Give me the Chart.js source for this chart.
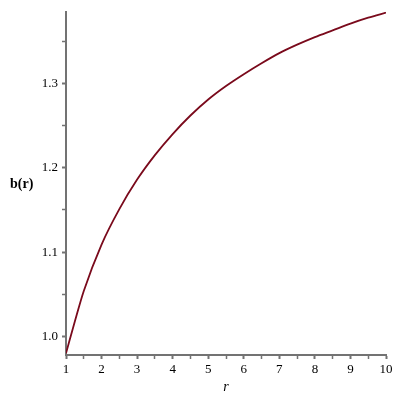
<!DOCTYPE html>
<html>
<head>
<meta charset="utf-8">
<script src="https://cdn.jsdelivr.net/npm/chart.js@4/dist/chart.umd.min.js"></script>
<style>
  html, body { margin: 0; padding: 0; background: #fff; }
  #wrap { width: 400px; height: 400px; }
</style>
</head>
<body>
<div id="wrap"><canvas id="grafica"></canvas></div>
<script>
// ── Datos ────────────────────────────────────────────────────────────────────
const rValues = [1, 1.25, 1.5, 2, 2.5, 3, 3.5, 4, 4.5, 5, 5.5, 6, 6.5, 7, 7.5, 8, 8.5, 9, 9.5, 10];
const bValues = [0.980, 1.018, 1.054, 1.109, 1.151, 1.186, 1.215, 1.240, 1.262, 1.281,
                 1.297, 1.311, 1.324, 1.336, 1.346, 1.355, 1.363, 1.371, 1.378, 1.384];

const xTicks      = [1, 1.5, 2, 2.5, 3, 3.5, 4, 4.5, 5, 5.5, 6, 6.5, 7, 7.5, 8, 8.5, 9, 9.5, 10];
const xTickLabels = ['1', '', '2', '', '3', '', '4', '', '5', '', '6', '', '7', '', '8', '', '9', '', '10'];
const yTicks      = [1.0, 1.05, 1.1, 1.15, 1.2, 1.25, 1.3, 1.35];
const yTickLabels = ['1.0', '', '1.1', '', '1.2', '', '1.3', ''];

const xTitle = 'r';
const yTitle = 'b(r)';

// ── Estilo ───────────────────────────────────────────────────────────────────
const AXIS_COLOR = '#737373';
const LINE_COLOR = '#7a0a1c';
const SERIF = "'Liberation Serif', 'Times New Roman', serif";

// títulos de ejes al estilo Maple (horizontales)
const titulos = {
    id: 'titulos',
    afterDraw(chart) {
        const { ctx, chartArea } = chart;
        ctx.save();
        ctx.fillStyle = '#000';
        ctx.textBaseline = 'middle';
        ctx.font = `bold 14px ${SERIF}`;
        ctx.textAlign = 'left';
        ctx.fillText(yTitle, 10, (chartArea.top + chartArea.bottom) / 2 + 1);
        ctx.font = `italic 14px ${SERIF}`;
        ctx.textAlign = 'center';
        ctx.fillText(xTitle, (chartArea.left + chartArea.right) / 2, 387);
        ctx.restore();
    }
};

const tickWidth = ctx => (ctx.tick && ctx.tick.label !== '' ? 2 : 1.5);

new Chart(document.getElementById('grafica'), {
    type: 'line',
    data: {
        datasets: [{
            data: rValues.map((r, i) => ({ x: r, y: bValues[i] })),
            borderColor: LINE_COLOR,
            borderWidth: 1.8,
            pointRadius: 0,
            fill: false,
            cubicInterpolationMode: 'monotone',
        }]
    },
    options: {
        responsive: true,
        maintainAspectRatio: false,
        animation: false,
        layout: { padding: { top: 8, right: 14, left: 0, bottom: 0 } },
        plugins: { legend: { display: false }, tooltip: { enabled: false } },
        scales: {
            x: {
                type: 'linear',
                min: 1,
                max: 10,
                afterBuildTicks: s => { s.ticks = xTicks.map(v => ({ value: v })); },
                afterFit: s => { s.height = 45; },
                border: { display: true, color: AXIS_COLOR, width: 2 },
                grid: {
                    drawOnChartArea: false,
                    drawTicks: true,
                    tickLength: 4,
                    tickColor: AXIS_COLOR,
                    tickWidth: tickWidth,
                },
                ticks: {
                    autoSkip: false,
                    maxRotation: 0,
                    padding: 3,
                    color: '#000',
                    font: { family: SERIF, size: 13 },
                    callback: (v, i) => xTickLabels[i],
                }
            },
            y: {
                type: 'linear',
                min: 0.978,
                max: 1.385,
                afterBuildTicks: s => { s.ticks = yTicks.map(v => ({ value: v })); },
                afterFit: s => { s.width = 66; },
                border: { display: true, color: AXIS_COLOR, width: 2 },
                grid: {
                    drawOnChartArea: false,
                    drawTicks: true,
                    tickLength: 4,
                    tickColor: AXIS_COLOR,
                    tickWidth: tickWidth,
                },
                ticks: {
                    autoSkip: false,
                    padding: 4,
                    color: '#000',
                    font: { family: SERIF, size: 13 },
                    callback: (v, i) => yTickLabels[i],
                }
            }
        }
    },
    plugins: [titulos]
});
</script>
</body>
</html>
